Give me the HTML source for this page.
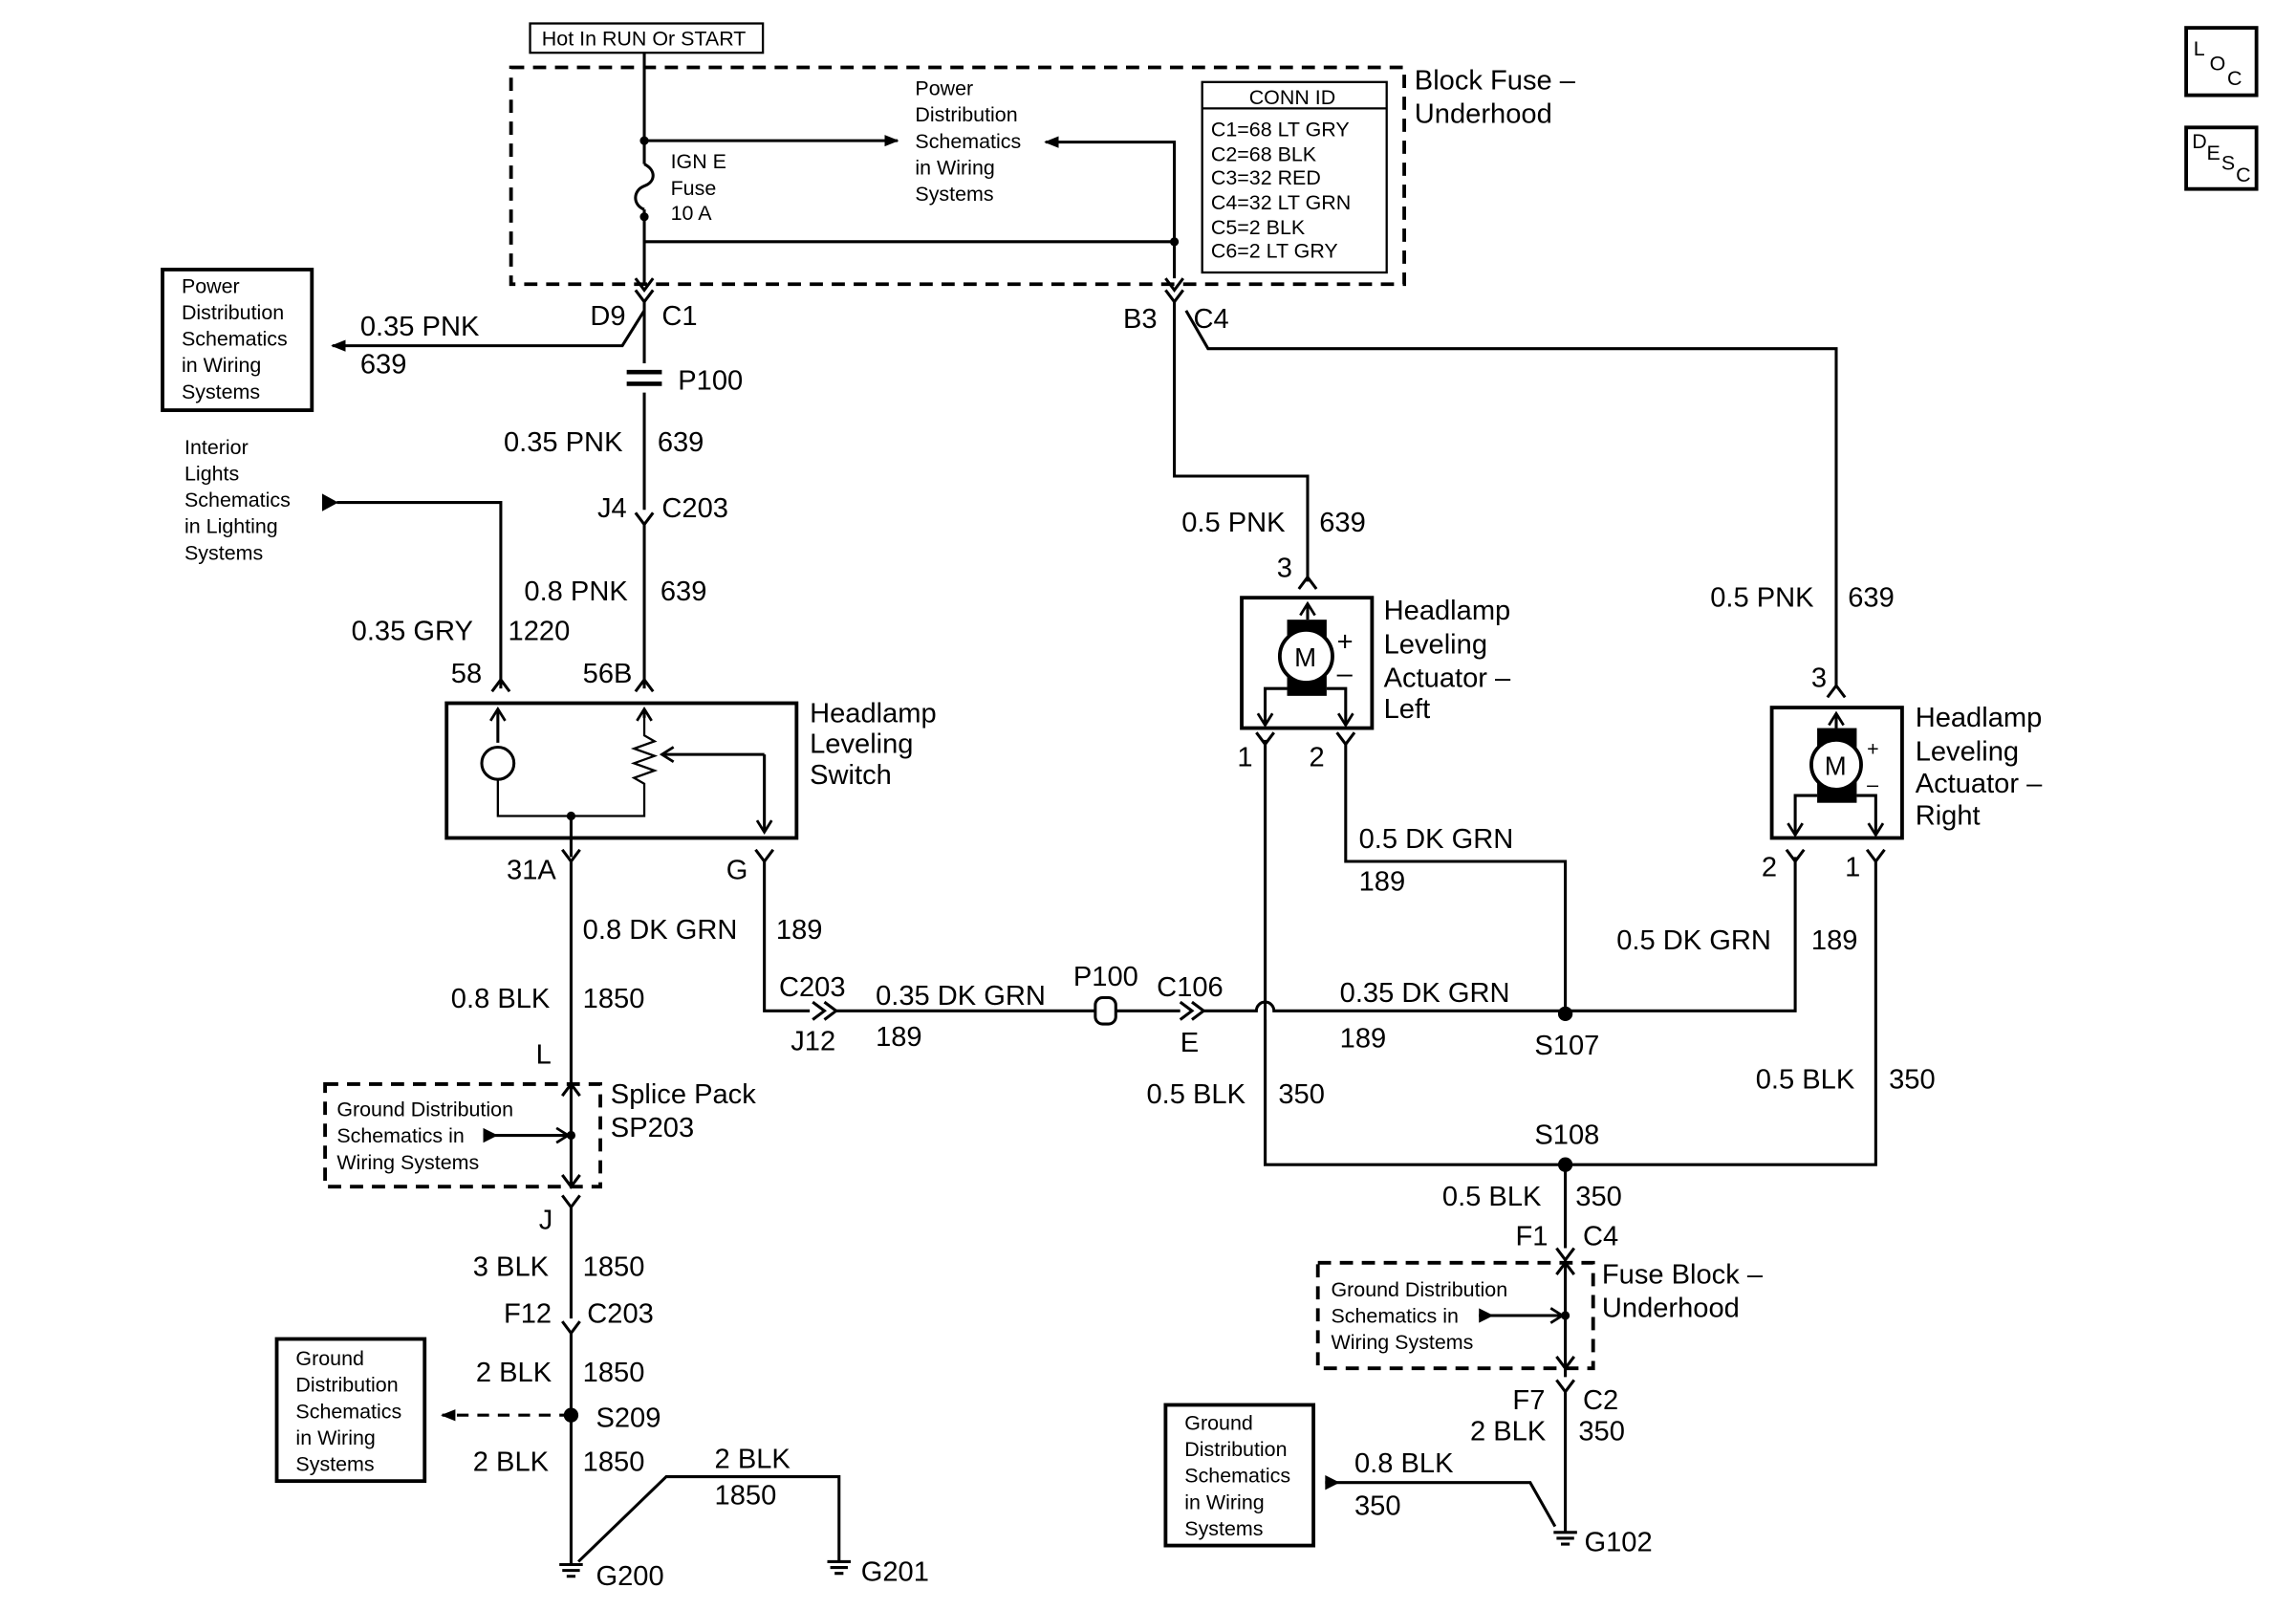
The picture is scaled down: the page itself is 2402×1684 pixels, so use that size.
<!DOCTYPE html>
<html><head><meta charset="utf-8"><style>
html,body{margin:0;padding:0;background:#fff;}
svg{display:block;}
text{font-family:"Liberation Sans",sans-serif;fill:#000;}
.l{font-size:19px;}
.s{font-size:14px;}
</style></head><body>
<svg width="2402" height="1684" viewBox="0 0 1568 1099" preserveAspectRatio="none" xmlns="http://www.w3.org/2000/svg">
<defs>
<marker id="a" markerWidth="10" markerHeight="10" refX="9" refY="5" orient="auto" markerUnits="userSpaceOnUse"><path d="M0,1 L10,5 L0,9 z" fill="#000"/></marker>
<marker id="o" markerWidth="12" markerHeight="12" refX="10" refY="6" orient="auto" markerUnits="userSpaceOnUse"><path d="M2,1 L10,6 L2,11" fill="none" stroke="#000" stroke-width="1.8"/></marker>
</defs>
<g stroke="#000" stroke-width="2" fill="none">
<!-- top -->
<rect x="362" y="16" width="159" height="20" stroke-width="1.5"/>
<rect x="349" y="46" width="610" height="148" stroke-dasharray="9,6" stroke-width="2.5"/>
<path d="M440,36 V112 M440,143 V195"/>
<path d="M440,112 C448,116 448,124 440,127 C432,130 432,140 440,143"/>
<path d="M440,96 H613" marker-end="url(#a)"/>
<path d="M802,190 V97 H714" marker-end="url(#a)"/>
<path d="M440,165 H802"/>
<rect x="821" y="56" width="126" height="130" stroke-width="1.5"/>
<path d="M821,74 H947" stroke-width="1.5"/>
<path d="M434,198 L440,206 L446,198 M434,190 L440,198 L446,190"/>
<path d="M440,206 V248 M440,268 V348"/>
<path d="M440,212 L425,236 H227" marker-end="url(#a)"/>
<rect x="111" y="184" width="102" height="96" stroke-width="2.5"/>
<path d="M428,254 H452 M428,262 H452" stroke-width="3"/>
<path d="M434,350 L440,358 L446,350 M440,358 V470"/>
<path d="M434,472 L440,464 L446,472" />
<path d="M342,470 V343 H230"/>
<path d="M336,472 L342,464 L348,472"/>
<!-- switch -->
<rect x="305" y="480" width="239" height="92" stroke-width="2.5"/>
<path d="M340,507 V484" marker-end="url(#o)"/>
<circle cx="340" cy="521" r="11"/>
<path d="M340,532 V557 H440 V535 L433,531 L447,526 L433,521 L447,516 L433,511 L447,506 L440,502 V484" stroke-width="1.5"/>
<path d="M440,490 V484" marker-end="url(#o)"/>
<path d="M522,515 H452" marker-end="url(#o)"/>
<path d="M522,515 V568" marker-end="url(#o)"/>
<path d="M390,557 V585"/>
<path d="M384,580 L390,588 L396,580 M516,580 L522,588 L528,580"/>
<path d="M390,588 V740"/>
<path d="M522,588 V690 H553"/>
<path d="M555,684 L563,690 L555,696 M563,684 L571,690 L563,696"/>
<path d="M571,690 H748 M762,690 H806"/>
<rect x="748" y="681" width="14" height="18" rx="5"/>
<path d="M806,684 L814,690 L806,696 M814,684 L822,690 L814,696"/>
<path d="M822,690 H858 A6,6 0 0 1 870,690 H1226 V585"/>
<path d="M1220,580 L1226,588 L1232,580 M1275,580 L1281,588 L1287,580"/>
<path d="M1281,588 V795 H864 V505"/>
<!-- splice pack -->
<rect x="222" y="740" width="188" height="70" stroke-dasharray="9,6" stroke-width="2.5"/>
<path d="M384,748 L390,740 L396,748 M384,802 L390,810 L396,802 M390,740 V810"/>
<path d="M330,775 H388" marker-end="url(#o)"/>
<path d="M384,816 L390,824 L396,816 M390,824 V900 M384,902 L390,910 L396,902 M390,910 V1068"/>
<rect x="189" y="914" width="101" height="97" stroke-width="2.5"/>
<path d="M390,966 H302" stroke-dasharray="8,6" marker-end="url(#a)"/>
<path d="M395,1066 L455,1008 H573 V1066"/>
<path d="M382,1068 H398 M384,1072 H396 M387,1076 H393 M565,1066 H581 M567,1070 H579 M570,1074 H576"/>
<!-- right top -->
<path d="M796,198 L802,206 L808,198 M796,190 L802,198 L808,190"/>
<path d="M802,206 V325 H893 V397"/>
<path d="M887,402 L893,394 L899,402"/>
<path d="M810,212 L825,238 H1254 V470"/>
<path d="M1248,476 L1254,468 L1260,476"/>
<!-- left actuator -->
<rect x="848" y="408" width="89" height="89" stroke-width="2.5"/>
<path d="M893,423 V412" marker-end="url(#o)"/>
<rect x="879" y="423" width="27" height="52" fill="#000" stroke="none"/>
<circle cx="892" cy="448" r="18" fill="#fff" stroke-width="2.5"/>
<path d="M879,470 H864 V495" marker-end="url(#o)"/>
<path d="M906,470 H919 V495" marker-end="url(#o)"/>
<path d="M858,500 L864,508 L870,500 M913,500 L919,508 L925,500"/>
<path d="M864,508 V684 M864,696 V795"/>
<path d="M919,508 V588 H1069 V692"/>
<!-- right actuator -->
<rect x="1210" y="483" width="89" height="89" stroke-width="2.5"/>
<path d="M1254,497 V487" marker-end="url(#o)"/>
<rect x="1241" y="497" width="27" height="51" fill="#000" stroke="none"/>
<circle cx="1254" cy="522" r="17" fill="#fff" stroke-width="2.5"/>
<path d="M1241,543 H1226 V570" marker-end="url(#o)"/>
<path d="M1268,543 H1281 V570" marker-end="url(#o)"/>
<!-- bottom right -->
<path d="M1069,795 V852"/>
<path d="M1063,852 L1069,860 L1075,852 M1069,860 V940"/>
<rect x="900" y="862" width="188" height="72" stroke-dasharray="9,6" stroke-width="2.5"/>
<path d="M1063,870 L1069,862 L1075,870 M1063,926 L1069,934 L1075,926"/>
<path d="M1010,898 H1067" marker-end="url(#o)"/>
<path d="M1063,942 L1069,950 L1075,942 M1069,950 V1046"/>
<path d="M905,1012 H1045 L1062,1042"/>
<path d="M1061,1046 H1077 M1063,1050 H1075 M1066,1054 H1072"/>
<rect x="796" y="959" width="101" height="96" stroke-width="2.5"/>
<!-- loc desc -->
<rect x="1493" y="19" width="48" height="46" stroke-width="2.5"/>
<rect x="1493" y="87" width="48" height="42" stroke-width="2.5"/>
</g>
<g fill="#000">
<circle cx="440" cy="96" r="3"/><circle cx="440" cy="148" r="3"/><circle cx="802" cy="165" r="3"/>
<circle cx="390" cy="557" r="3"/><circle cx="390" cy="775" r="3"/><circle cx="390" cy="966" r="5"/>
<circle cx="1069" cy="692" r="5"/><circle cx="1069" cy="795" r="5"/><circle cx="1069" cy="898" r="3"/>
<path d="M220,337 L231,343 L220,349 z"/>
<path d="M330,770 L340,775 L330,780 z"/>
<path d="M1010,893 L1020,898 L1010,903 z"/>
<path d="M905,1007 L915,1012 L905,1017 z"/>
</g>
<text class="s" x="370" y="31">Hot In RUN Or START</text>
<text class="s" x="458" y="115">IGN E</text><text class="s" x="458" y="133">Fuse</text><text class="s" x="458" y="150">10 A</text>
<text class="s" x="625" y="65">Power</text><text class="s" x="625" y="83">Distribution</text><text class="s" x="625" y="101">Schematics</text><text class="s" x="625" y="119">in Wiring</text><text class="s" x="625" y="137">Systems</text>
<text class="s" x="853" y="71">CONN ID</text>
<text class="s" x="827" y="93">C1=68 LT GRY</text><text class="s" x="827" y="110">C2=68 BLK</text><text class="s" x="827" y="126">C3=32 RED</text><text class="s" x="827" y="143">C4=32 LT GRN</text><text class="s" x="827" y="160">C5=2 BLK</text><text class="s" x="827" y="176">C6=2 LT GRY</text>
<text class="l" x="966" y="61">Block Fuse –</text><text class="l" x="966" y="84">Underhood</text>
<text class="l" x="403" y="222">D9</text><text class="l" x="452" y="222">C1</text>
<text class="l" x="767" y="224">B3</text><text class="l" x="815" y="224">C4</text>
<text class="s" x="124" y="200">Power</text><text class="s" x="124" y="218">Distribution</text><text class="s" x="124" y="236">Schematics</text><text class="s" x="124" y="254">in Wiring</text><text class="s" x="124" y="272">Systems</text>
<text class="l" x="246" y="229">0.35 PNK</text><text class="l" x="246" y="255">639</text>
<text class="l" x="463" y="266">P100</text>
<text class="l" x="344" y="308">0.35 PNK</text><text class="l" x="449" y="308">639</text>
<text class="s" x="126" y="310">Interior</text><text class="s" x="126" y="328">Lights</text><text class="s" x="126" y="346">Schematics</text><text class="s" x="126" y="364">in Lighting</text><text class="s" x="126" y="382">Systems</text>
<text class="l" x="408" y="353">J4</text><text class="l" x="452" y="353">C203</text>
<text class="l" x="358" y="410">0.8 PNK</text><text class="l" x="451" y="410">639</text>
<text class="l" x="240" y="437">0.35 GRY</text><text class="l" x="347" y="437">1220</text>
<text class="l" x="308" y="466">58</text><text class="l" x="398" y="466">56B</text>
<text class="l" x="553" y="493">Headlamp</text><text class="l" x="553" y="514">Leveling</text><text class="l" x="553" y="535">Switch</text>
<text class="l" x="346" y="600">31A</text><text class="l" x="496" y="600">G</text>
<text class="l" x="398" y="641">0.8 DK GRN</text><text class="l" x="530" y="641">189</text>
<text class="l" x="308" y="688">0.8 BLK</text><text class="l" x="398" y="688">1850</text>
<text class="l" x="366" y="726">L</text>
<text class="l" x="532" y="680">C203</text><text class="l" x="540" y="717">J12</text>
<text class="l" x="598" y="686">0.35 DK GRN</text><text class="l" x="598" y="714">189</text>
<text class="l" x="733" y="673">P100</text>
<text class="l" x="790" y="680">C106</text><text class="l" x="806" y="718">E</text>
<text class="l" x="915" y="684">0.35 DK GRN</text><text class="l" x="915" y="715">189</text>
<text class="l" x="1048" y="720">S107</text>
<text class="s" x="230" y="762">Ground Distribution</text><text class="s" x="230" y="780">Schematics in</text><text class="s" x="230" y="798">Wiring Systems</text>
<text class="l" x="417" y="753">Splice Pack</text><text class="l" x="417" y="776">SP203</text>
<text class="l" x="368" y="839">J</text>
<text class="l" x="323" y="871">3 BLK</text><text class="l" x="398" y="871">1850</text>
<text class="l" x="344" y="903">F12</text><text class="l" x="401" y="903">C203</text>
<text class="l" x="325" y="943">2 BLK</text><text class="l" x="398" y="943">1850</text>
<text class="l" x="407" y="974">S209</text>
<text class="s" x="202" y="932">Ground</text><text class="s" x="202" y="950">Distribution</text><text class="s" x="202" y="968">Schematics</text><text class="s" x="202" y="986">in Wiring</text><text class="s" x="202" y="1004">Systems</text>
<text class="l" x="323" y="1004">2 BLK</text><text class="l" x="398" y="1004">1850</text>
<text class="l" x="488" y="1002">2 BLK</text><text class="l" x="488" y="1027">1850</text>
<text class="l" x="407" y="1082">G200</text><text class="l" x="588" y="1079">G201</text>
<text class="l" x="807" y="363">0.5 PNK</text><text class="l" x="901" y="363">639</text>
<text class="l" x="872" y="394">3</text>
<text class="l" x="913" y="444">+</text><text class="l" x="913" y="466">–</text>
<text class="l" x="884" y="455" style="font-size:18px">M</text>
<text class="l" x="945" y="423">Headlamp</text><text class="l" x="945" y="446">Leveling</text><text class="l" x="945" y="469">Actuator –</text><text class="l" x="945" y="490">Left</text>
<text class="l" x="845" y="523">1</text><text class="l" x="894" y="523">2</text>
<text class="l" x="928" y="579">0.5 DK GRN</text><text class="l" x="928" y="608">189</text>
<text class="l" x="1168" y="414">0.5 PNK</text><text class="l" x="1262" y="414">639</text>
<text class="l" x="1237" y="469">3</text>
<text class="l" x="1246" y="529" style="font-size:18px">M</text>
<text class="s" x="1275" y="516">+</text><text class="s" x="1275" y="540">–</text>
<text class="l" x="1308" y="496">Headlamp</text><text class="l" x="1308" y="519">Leveling</text><text class="l" x="1308" y="541">Actuator –</text><text class="l" x="1308" y="563">Right</text>
<text class="l" x="1203" y="598">2</text><text class="l" x="1260" y="598">1</text>
<text class="l" x="1104" y="648">0.5 DK GRN</text><text class="l" x="1237" y="648">189</text>
<text class="l" x="783" y="753">0.5 BLK</text><text class="l" x="873" y="753">350</text>
<text class="l" x="1199" y="743">0.5 BLK</text><text class="l" x="1290" y="743">350</text>
<text class="l" x="1048" y="781">S108</text>
<text class="l" x="985" y="823">0.5 BLK</text><text class="l" x="1076" y="823">350</text>
<text class="l" x="1035" y="850">F1</text><text class="l" x="1081" y="850">C4</text>
<text class="s" x="909" y="885">Ground Distribution</text><text class="s" x="909" y="903">Schematics in</text><text class="s" x="909" y="921">Wiring Systems</text>
<text class="l" x="1094" y="876">Fuse Block –</text><text class="l" x="1094" y="899">Underhood</text>
<text class="l" x="1033" y="962">F7</text><text class="l" x="1081" y="962">C2</text>
<text class="l" x="1004" y="983">2 BLK</text><text class="l" x="1078" y="983">350</text>
<text class="s" x="809" y="976">Ground</text><text class="s" x="809" y="994">Distribution</text><text class="s" x="809" y="1012">Schematics</text><text class="s" x="809" y="1030">in Wiring</text><text class="s" x="809" y="1048">Systems</text>
<text class="l" x="925" y="1005">0.8 BLK</text><text class="l" x="925" y="1034">350</text>
<text class="l" x="1082" y="1059">G102</text>
<text class="s" x="1498" y="38">L</text><text class="s" x="1509" y="48">O</text><text class="s" x="1521" y="58">C</text>
<text class="s" x="1497" y="101">D</text><text class="s" x="1507" y="109">E</text><text class="s" x="1517" y="116">S</text><text class="s" x="1527" y="124">C</text>
</svg>
</body></html>
